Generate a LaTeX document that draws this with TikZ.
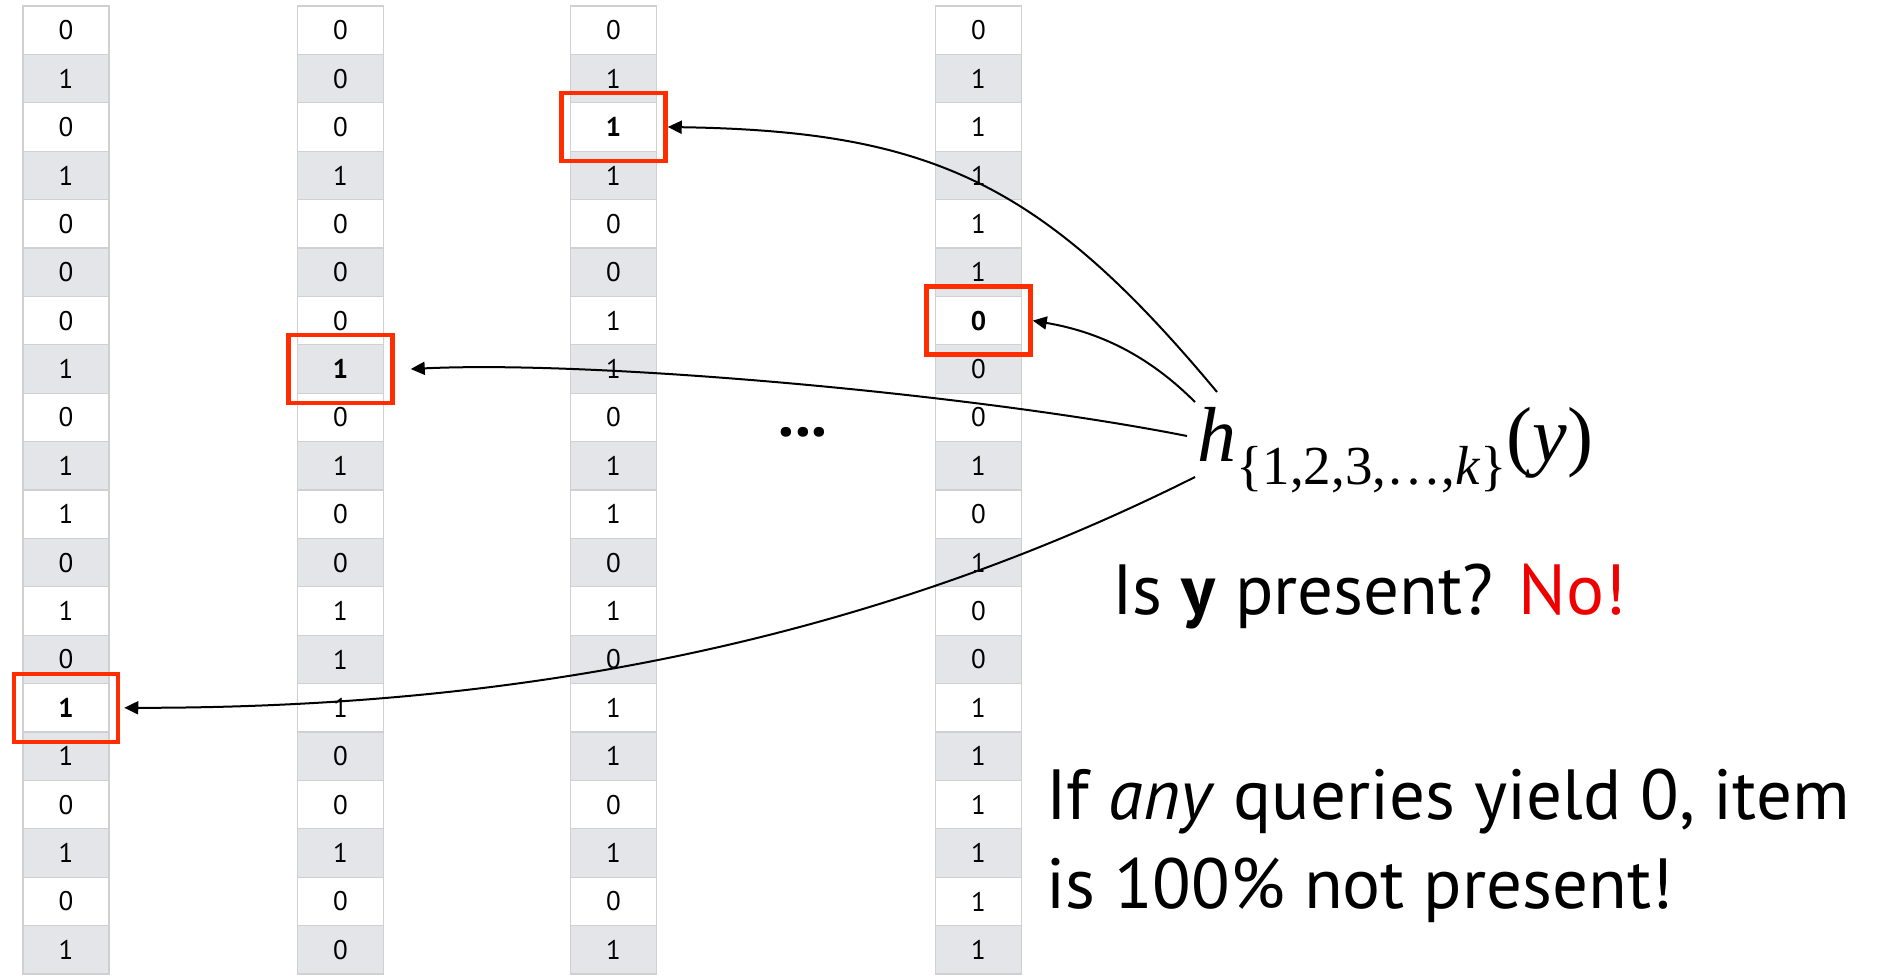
\documentclass[tikz,border=0pt]{standalone}
\usepackage{fontspec}
\setmainfont{PT Sans}
\newfontfamily\tmsfont{Liberation Serif}
\usetikzlibrary{arrows.meta}
\definecolor{rowgray}{RGB}{227,229,233}
\definecolor{gridgray}{RGB}{208,208,210}
\definecolor{boxred}{RGB}{255,45,0}
\definecolor{nored}{RGB}{238,0,0}

\begin{document}
\begin{tikzpicture}[x=1pt,y=-1pt,
	cell/.style={draw=gridgray,line width=1.3pt,minimum width=86pt,minimum height=48.4pt,inner sep=0pt,font=\fontsize{27}{27}\selectfont},
	row0/.style={fill=rowgray},
	row1/.style={fill=white},
	hit/.style={draw=boxred,line width=4.5pt,minimum width=104pt,minimum height=68pt},
	query/.style={line width=2pt,-{Triangle[length=14pt,width=13pt]}},
	big/.style={font=\fontsize{71}{71}\selectfont,inner sep=0pt,anchor=base west}]

\useasboundingbox (0,0) rectangle (1880,975);

\foreach \v [count=\r] in {0,1,0,1,0,0,0,1,0,1,1,0,1,0,\textbf{1},1,0,1,0,1}{
	\pgfmathtruncatemacro\p{mod(\r,2)}
	\node[cell,row\p] (a\r) at (66,48.4*\r-18.2) {\v};
}

\foreach \v [count=\r] in {0,0,0,1,0,0,0,\textbf{1},0,1,0,0,1,1,1,0,0,1,0,0}{
	\pgfmathtruncatemacro\p{mod(\r,2)}
	\node[cell,row\p] (b\r) at (340.5,48.4*\r-18.2) {\v};
}

\foreach \v [count=\r] in {0,1,\textbf{1},1,0,0,1,1,0,1,1,0,1,0,1,1,0,1,0,1}{
	\pgfmathtruncatemacro\p{mod(\r,2)}
	\node[cell,row\p] (c\r) at (613.5,48.4*\r-18.2) {\v};
}

\foreach \v [count=\r] in {0,1,1,1,1,1,\textbf{0},0,0,1,0,1,0,0,1,1,1,1,1,1}{
	\pgfmathtruncatemacro\p{mod(\r,2)}
	\node[cell,row\p] (d\r) at (978.5,48.4*\r-18.2) {\v};
}

\node[hit] (hita) at (a15) {};
\node[hit] (hitb) at (b8) {};
\node[hit] (hitc) at (c3) {};
\node[hit] (hitd) at (d7) {};

\node[inner sep=0pt] (dots) at (803,432) {\fontsize{64}{64}\selectfont\textbf{...}};

\node[anchor=base west,inner sep=0pt] (hq) at (1197,461) {\tmsfont\fontsize{78}{78}\selectfont\itshape h\raisebox{-23pt}{\fontsize{55}{55}\selectfont\upshape\{1,2,3,\ldots,\textit{k}\}}\upshape(\textit{y})};

\node[big] (ask) at (1112,614) {Is \textbf{y} present? \textcolor{nored}{No!}};
\node[big] (rulea) at (1046,819) {If \textit{any} queries yield 0, item};
\node[big] (ruleb) at (1046,908) {is 100\% not present!};

\coordinate (qa) at (1195,477);
\coordinate (qb) at (1187,436);
\coordinate (qc) at (1217,392);
\coordinate (qd) at (1195,402);

\draw[query] (qc) .. controls (1043,183) and (932,131) .. (hitc.east);
\draw[query] (qd) .. controls (1149,356) and (1100,332) .. (hitd.east);
\draw[query] (qb) .. controls (980,395) and (600,360) .. ([xshift=16pt]hitb.east);
\draw[query] (qa) .. controls (820,665) and (450,708) .. ([xshift=4pt]hita.east);

\end{tikzpicture}
\end{document}
